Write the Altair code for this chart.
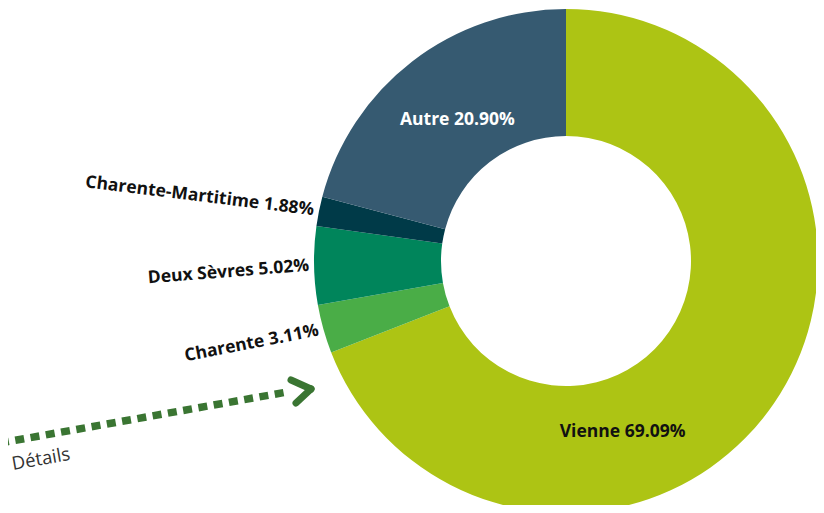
import altair as alt
import pandas as pd

categories = ["Vienne", "Charente", "Deux Sèvres", "Charente-Martitime", "Autre"]
values = [69.09, 3.11, 5.02, 1.88, 20.90]
colors = ["#adc414", "#4aad47", "#00855b", "#003a48", "#365a71"]
outside = ["Charente", "Deux Sèvres", "Charente-Martitime"]

df = pd.DataFrame({"cat": categories, "value": values, "order": list(range(len(categories)))})

CX, CY = 558, 253
R_OUT, R_IN = 252, 125
FONT = "Open Sans"
FS = 17.5

# label rotation (style) for the outside labels, in degrees
label_rot = {"Charente": 349, "Deux Sèvres": 355.5, "Charente-Martitime": 7}
rot_expr = " : ".join(f"datum.cat == '{k}' ? {v}" for k, v in label_rot.items()) + " : 0"

base = alt.Chart(df).transform_window(
    cum="sum(value)", sort=[alt.SortField("order")]
).transform_joinaggregate(total="sum(value)").transform_calculate(
    start="datum.cum - datum.value",
    frac="datum.cat == 'Vienne' ? 0.65 : 0.5",
    label="datum.cat + ' ' + format(datum.value, '.2f') + '%'",
).transform_calculate(
    theta_mid="2 * PI * (datum.start + datum.frac * datum.value) / datum.total",
    rot=rot_expr,
)

arcs = alt.Chart(df).mark_arc(outerRadius=R_OUT, innerRadius=R_IN, stroke=None).encode(
    theta=alt.Theta("value:Q", stack=True),
    order=alt.Order("order:Q"),
    color=alt.Color("cat:N", scale=alt.Scale(domain=categories, range=colors), legend=None),
    x=alt.value(CX),
    y=alt.value(CY),
)

out_labels = base.transform_filter(
    alt.FieldOneOfPredicate(field="cat", oneOf=outside)
).mark_text(
    align="right", baseline="middle", font=FONT, fontWeight="bold", fontSize=FS, color="#111111", radius=R_OUT + 5
).encode(
    theta=alt.Theta("theta_mid:Q", scale=None),
    angle=alt.Angle("rot:Q", scale=None),
    text="label:N",
    x=alt.value(CX),
    y=alt.value(CY),
)

autre_label = base.transform_filter(alt.datum.cat == "Autre").mark_text(
    align="center", baseline="middle", font=FONT, fontWeight="bold", fontSize=FS, color="#ffffff", radius=178
).encode(
    theta=alt.Theta("theta_mid:Q", scale=None),
    text="label:N",
    x=alt.value(CX),
    y=alt.value(CY),
)

vienne_label = base.transform_filter(alt.datum.cat == "Vienne").mark_text(
    align="center", baseline="middle", font=FONT, fontWeight="bold", fontSize=FS, color="#111111", radius=180
).encode(
    theta=alt.Theta("theta_mid:Q", scale=None),
    text="label:N",
    x=alt.value(CX),
    y=alt.value(CY),
)

one = alt.Data(values=[{"a": 1}])
ARROW = "#3a7532"

dots = alt.Chart(one).mark_rule(
    color=ARROW, strokeWidth=7.5, strokeDash=[9, 6.5], strokeCap="butt"
).encode(x=alt.value(-8), y=alt.value(435), x2=alt.value(279), y2=alt.value(384))

head1 = alt.Chart(one).mark_rule(color=ARROW, strokeWidth=7, strokeCap="round").encode(
    x=alt.value(283), y=alt.value(372), x2=alt.value(303), y2=alt.value(381)
)
head2 = alt.Chart(one).mark_rule(color=ARROW, strokeWidth=7, strokeCap="round").encode(
    x=alt.value(303), y=alt.value(381), x2=alt.value(288), y2=alt.value(395)
)

details = alt.Chart(one).mark_text(
    text="Détails", align="left", baseline="alphabetic", font=FONT, fontSize=18.5, color="#333333", angle=350
).encode(x=alt.value(5), y=alt.value(462))

chart = alt.layer(arcs, out_labels, autre_label, vienne_label, dots, head1, head2, details).properties(
    width=808, height=497, autosize=alt.AutoSizeParams(type="none"), padding=0
).configure_view(stroke=None)

chart.save("out.html", embed_options={"renderer": "svg", "actions": False})
